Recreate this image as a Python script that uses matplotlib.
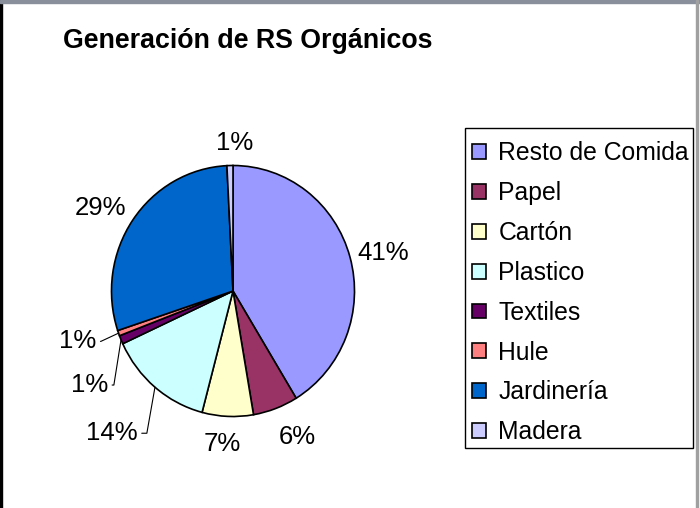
import numpy as np
import matplotlib
matplotlib.use('Agg')
import matplotlib.pyplot as plt
from matplotlib.patches import Rectangle

# data
categories = ['Resto de Comida', 'Papel', 'Cartón', 'Plastico', 'Textiles', 'Hule', 'Jardinería', 'Madera']
values = [41.3, 6.0, 6.8, 14.0, 1.1, 0.7, 29.3, 0.8]
colors = ['#9999FF', '#993366', '#FFFFCC', '#CCFFFF', '#660066', '#FF8080', '#0066CC', '#CCCCFF']
title = 'Generación de RS Orgánicos'

# label placement: radius and angle shift (deg) from the wedge middle, leader angle (None = no leader)
lab_r = [1.27, 1.28, 1.22, 1.51, 1.40, 1.34, 1.275, 1.18]
lab_shift = [-2, 4, -1.7, -1.4, 9.5, -2.2, 3, -2]
lab_leader = [None, None, None, 80, 81, 25, None, None]

plt.rcParams['font.family'] = ['Liberation Sans', 'DejaVu Sans']

fig = plt.figure(figsize = (7.0, 5.08), dpi = 100)
W, H = 700, 508

# pie axes, slightly taller than wide like the original
cx, cy = 233, 291
rx, ry = 121.5, 125.5
lim = 1.5
ax = fig.add_axes([(cx - lim*rx)/W, (H - cy - lim*ry)/H, 2*lim*rx/W, 2*lim*ry/H])
wedges, _ = ax.pie(values, colors = colors, startangle = 90, counterclock = False,
	wedgeprops = dict(edgecolor = 'black', linewidth = 1.2))
ax.set_aspect('auto')
ax.set_xlim(-lim, lim)
ax.set_ylim(-lim, lim)
ax.axis('off')

total = sum(values)
for i, w in enumerate(wedges):
	mid = np.deg2rad((w.theta1 + w.theta2) / 2)
	pct = '{:.0f}%'.format(round(values[i] / total * 100))
	ang = mid + np.deg2rad(lab_shift[i])
	tx, ty = lab_r[i]*np.cos(ang), lab_r[i]*np.sin(ang)
	if lab_leader[i] is None:
		ax.text(tx, ty, pct, ha = 'center', va = 'center', fontsize = 18.5)
	else:
		ax.annotate(pct, xy = (np.cos(mid), np.sin(mid)), xytext = (tx, ty),
			ha = 'center', va = 'center', fontsize = 18.5,
			arrowprops = dict(arrowstyle = '-', color = 'black', lw = 0.8, shrinkA = 1, shrinkB = 0,
				connectionstyle = 'angle,angleA=0,angleB={},rad=0'.format(lab_leader[i])))

fig.text(63/W, 1 - 41/H, title, ha = 'left', va = 'center', fontsize = 19.3, fontweight = 'bold')

# legend entries without frame, box drawn separately
leg = fig.legend(wedges, categories, loc = 'upper left', bbox_to_anchor = (465/W, 1 - 134/H),
	fontsize = 17.8, frameon = False,
	handlelength = 0.55, handleheight = 0.55, handletextpad = 0.5, borderpad = 0.3,
	labelspacing = 0.64, borderaxespad = 0)
for h in leg.legend_handles:
	h.set_linewidth(1.2)
fig.patches.append(Rectangle((465/W, 1 - 448/H), 228/W, 320/H, transform = fig.transFigure,
	facecolor = 'none', edgecolor = 'black', linewidth = 1.0, zorder = 4))

# window frame
fig.patches.append(Rectangle((0, 0), 2/W, 1, transform = fig.transFigure, color = 'black', zorder = 5))
fig.patches.append(Rectangle((0, 1 - 3/H), 1, 3/H, transform = fig.transFigure, color = '#8a8f9c', zorder = 5))
fig.patches.append(Rectangle((696/W, 0), 2/W, 1, transform = fig.transFigure, color = '#a0a0a0', zorder = 5))

fig.savefig('out.png', dpi = 100)
